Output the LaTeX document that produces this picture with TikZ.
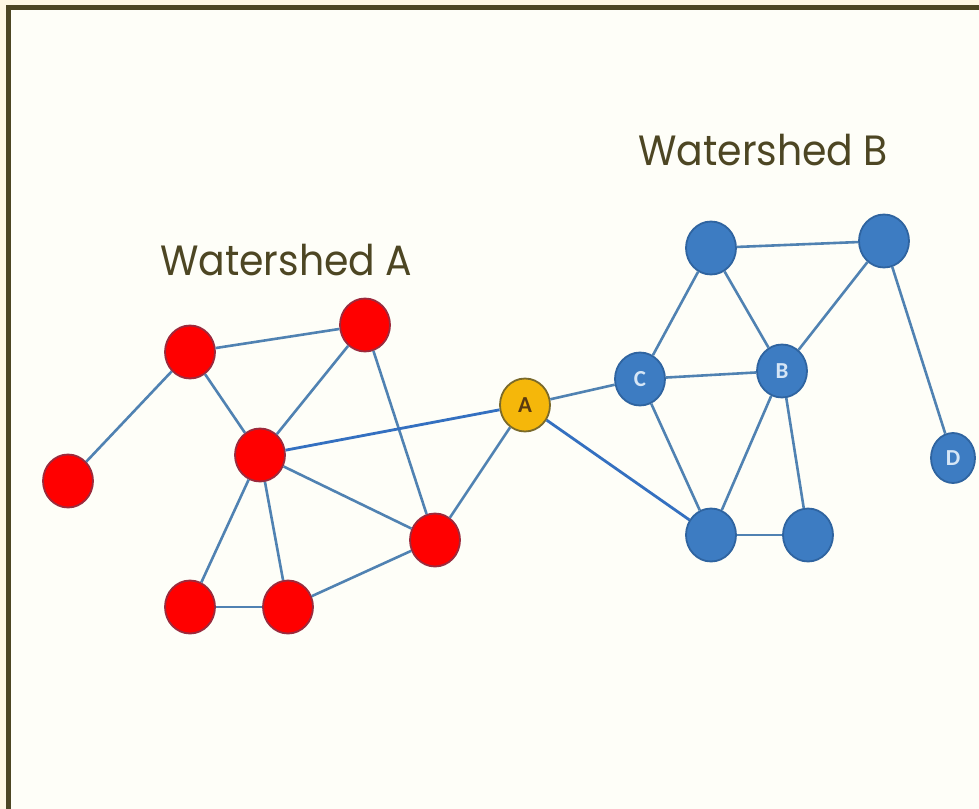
\documentclass[tikz,border=0pt]{standalone}
\usepackage{fontspec}
\setmainfont{Poppins}
\newfontfamily\titlefont[FakeStretch=0.93]{Poppins}
\newfontfamily\lblfont{Carlito}
\usetikzlibrary{shapes.geometric}
\definecolor{framecol}{HTML}{4D4623}
\definecolor{cream}{HTML}{FFF8E4}
\definecolor{paper}{HTML}{FEFEF8}
\definecolor{redfill}{HTML}{FF0000}
\definecolor{redline}{HTML}{9C2A3C}
\definecolor{bluefill}{HTML}{3D7CC2}
\definecolor{blueline}{HTML}{2F64A0}
\definecolor{yellowfill}{HTML}{F5B70A}
\definecolor{yellowline}{HTML}{7A6A2A}
\definecolor{edgecol}{HTML}{5082B2}
\definecolor{edgebright}{HTML}{3470C0}
\definecolor{lbllight}{HTML}{D6E6F6}
\definecolor{lbldark}{HTML}{5A3A10}
\begin{document}
\begin{tikzpicture}[x=1bp,y=-1bp,
  vtx/.style={ellipse, minimum width=50bp, minimum height=53bp, inner sep=0pt, line width=1.8bp},
  rednode/.style={vtx, fill=redfill, draw=redline},
  bluenode/.style={vtx, fill=bluefill, draw=blueline, text=lbllight, font=\lblfont\bfseries\fontsize{23}{23}\selectfont},
  yellownode/.style={vtx, fill=yellowfill, draw=yellowline, text=lbldark, font=\lblfont\bfseries\fontsize{23}{23}\selectfont},
  link/.style={draw=edgecol, line width=2.6bp},
  brightlink/.style={draw=edgebright, line width=2.8bp},
  title/.style={anchor=base west, text=framecol, inner sep=0pt, font=\titlefont\fontsize{42.5}{50}\selectfont}
]
\fill[cream] (0,0) rectangle (979,809);
\fill[framecol] (6,5) rectangle (979,809);
\fill[paper] (11,10) rectangle (979,809);
\useasboundingbox (0,0) rectangle (979,809);

\node[title] (ta) at (160,275) {Watershed A};
\node[title] (tb) at (638,165) {Watershed B};

% red watershed
\node[rednode] (r1) at (68,481) {};
\node[rednode] (r2) at (190,352) {};
\node[rednode] (r3) at (365,325) {};
\node[rednode] (r4) at (260,455) {};
\node[rednode] (r5) at (435,540) {};
\node[rednode] (r6) at (190,607) {};
\node[rednode] (r7) at (288,607) {};
% yellow
\node[yellownode] (a) at (525,405) {A};
% blue watershed
\node[bluenode] (c) at (640,379) {C};
\node[bluenode] (b) at (782,371) {B};
\node[bluenode] (t1) at (711,248) {};
\node[bluenode] (t2) at (884,241) {};
\node[bluenode, minimum width=44bp, minimum height=50bp] (d) at (953,458) {D};
\node[bluenode] (bl) at (711,535) {};
\node[bluenode] (br) at (808,535) {};

\draw[link] (r1) -- (r2);
\draw[link] (r2) -- (r3);
\draw[link] (r2) -- (r4);
\draw[link] (r3) -- (r4);
\draw[link] (r3) -- (r5);
\draw[link] (r4) -- (r5);
\draw[link] (r4) -- (r6);
\draw[link] (r4) -- (r7);
\draw[link] (r6) -- (r7);
\draw[link] (r7) -- (r5);
\draw[link] (r5) -- (a);
\draw[brightlink] (r4) -- (a);
\draw[link] (a) -- (c);
\draw[brightlink] (a) -- (bl);
\draw[link] (c) -- (b);
\draw[link] (c) -- (t1);
\draw[link] (c) -- (bl);
\draw[link] (t1) -- (t2);
\draw[link] (t1) -- (b);
\draw[link] (t2) -- (b);
\draw[link] (t2) -- (d);
\draw[link] (b) -- (bl);
\draw[link] (b) -- (br);
\draw[link] (bl) -- (br);
\end{tikzpicture}
\end{document}
